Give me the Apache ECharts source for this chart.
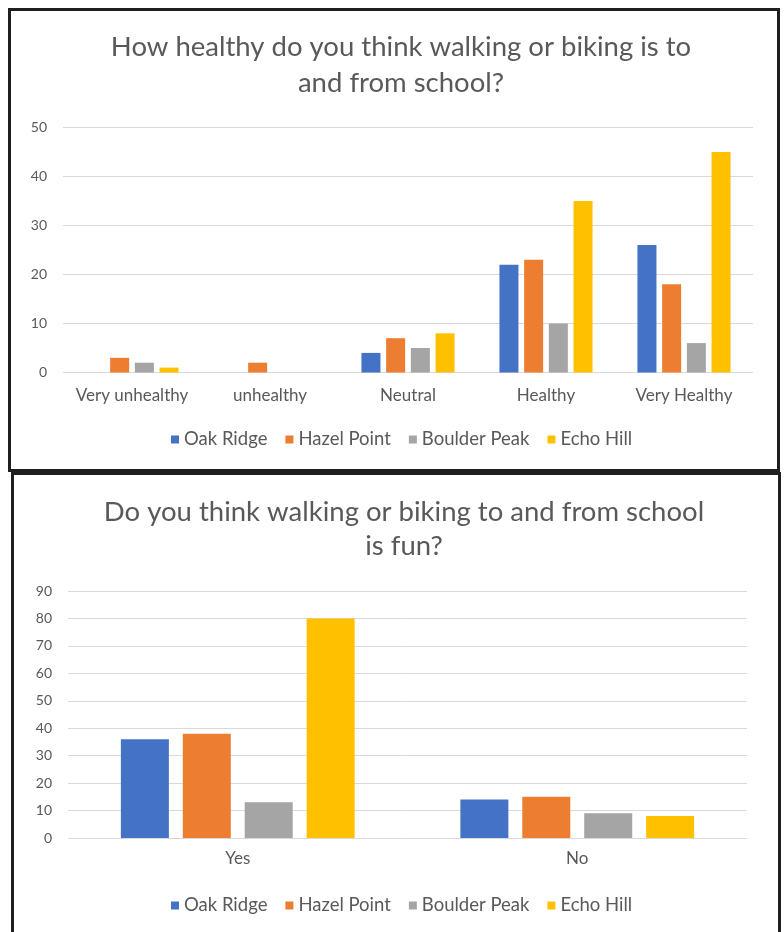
<!DOCTYPE html>
<html>
<head>
<meta charset="utf-8">
<style>
  html, body { margin: 0; padding: 0; background: #ffffff; }
  #chart { width: 784px; height: 932px; }
</style>
<script src="https://cdn.jsdelivr.net/npm/echarts@6/dist/echarts.min.js"></script>
</head>
<body>
<div id="chart"></div>
<script>
// Survey answers by school
const schools = ['Oak Ridge', 'Hazel Point', 'Boulder Peak', 'Echo Hill'];
const schoolColors = ['#4472C4', '#ED7D31', '#A5A5A5', '#FFC000'];

// Chart 1: perceived health of walking/biking
const healthTitle = 'How healthy do you think walking or biking is to\nand from school?';
const healthCategories = ['Very unhealthy', 'unhealthy', 'Neutral', 'Healthy', 'Very Healthy'];
const healthOakRidge    = [0, 0, 4, 22, 26];
const healthHazelPoint  = [3, 2, 7, 23, 18];
const healthBoulderPeak = [2, 0, 5, 10, 6];
const healthEchoHill    = [1, 0, 8, 35, 45];
const healthTicks = { min: 0, max: 50, interval: 10 };

// Chart 2: is walking/biking fun
const funTitle = 'Do you think walking or biking to and from school\nis fun?';
const funCategories = ['Yes', 'No'];
const funOakRidge    = [36, 14];
const funHazelPoint  = [38, 15];
const funBoulderPeak = [13, 9];
const funEchoHill    = [80, 8];
const funTicks = { min: 0, max: 90, interval: 10 };

const healthSeries = [healthOakRidge, healthHazelPoint, healthBoulderPeak, healthEchoHill];
const funSeries = [funOakRidge, funHazelPoint, funBoulderPeak, funEchoHill];

const textColor = '#595959';
const fontFamily = 'Lato, "Open Sans", sans-serif';

function valueAxis(gridIndex, ticks) {
  return {
    type: 'value', gridIndex,
    min: ticks.min, max: ticks.max, interval: ticks.interval,
    axisLine: { show: false }, axisTick: { show: false },
    axisLabel: { color: textColor, fontSize: 14, fontFamily, margin: 16 },
    splitLine: { lineStyle: { color: '#d9d9d9', width: 1 } }
  };
}
function categoryAxis(gridIndex, data, margin) {
  return {
    type: 'category', gridIndex, data,
    axisLine: { show: false }, axisTick: { show: false },
    axisLabel: { interval: 0, color: textColor, fontSize: 17, fontFamily, margin }
  };
}
function barSeries(idx, data, axisIndex, width, gap) {
  return {
    type: 'bar', name: schools[idx], data,
    xAxisIndex: axisIndex, yAxisIndex: axisIndex,
    barWidth: width, barGap: gap,
    itemStyle: { color: schoolColors[idx] },
    emphasis: { disabled: true }
  };
}
function legendAt(top) {
  return {
    top, left: 166, data: schools,
    icon: 'rect', itemWidth: 8, itemHeight: 8, itemGap: 18,
    textStyle: { color: textColor, fontSize: 18.5, fontFamily }
  };
}

const chart = echarts.init(document.getElementById('chart'), null, { renderer: 'canvas' });
chart.setOption({
  animation: false,
  backgroundColor: '#ffffff',
  color: schoolColors,
  graphic: [
    { type: 'rect', shape: { x: 9.5, y: 9.5, width: 769, height: 461 },
      style: { fill: 'none', stroke: '#1f1f1f', lineWidth: 3 }, z: 100 },
    { type: 'rect', shape: { x: 12.5, y: 473.5, width: 767, height: 470 },
      style: { fill: 'none', stroke: '#1f1f1f', lineWidth: 3 }, z: 100 },
    { type: 'text', x: 401, y: 65,
      style: { text: healthTitle, align: 'center', verticalAlign: 'middle',
               fill: textColor, fontSize: 27.5, fontFamily, lineHeight: 36 } },
    { type: 'text', x: 404, y: 529,
      style: { text: funTitle, align: 'center', verticalAlign: 'middle',
               fill: textColor, fontSize: 27.5, fontFamily, lineHeight: 34 } }
  ],
  legend: [legendAt(425), legendAt(891)],
  grid: [
    { left: 63, top: 127.5, width: 690, height: 245 },
    { left: 68, top: 591, width: 679, height: 247 }
  ],
  xAxis: [categoryAxis(0, healthCategories, 15), categoryAxis(1, funCategories, 12)],
  yAxis: [valueAxis(0, healthTicks), valueAxis(1, funTicks)],
  series: [
    ...healthSeries.map((d, i) => barSeries(i, d, 0, 19, '30%')),
    ...funSeries.map((d, i) => barSeries(i, d, 1, 48, '29%'))
  ]
});
</script>
</body>
</html>
